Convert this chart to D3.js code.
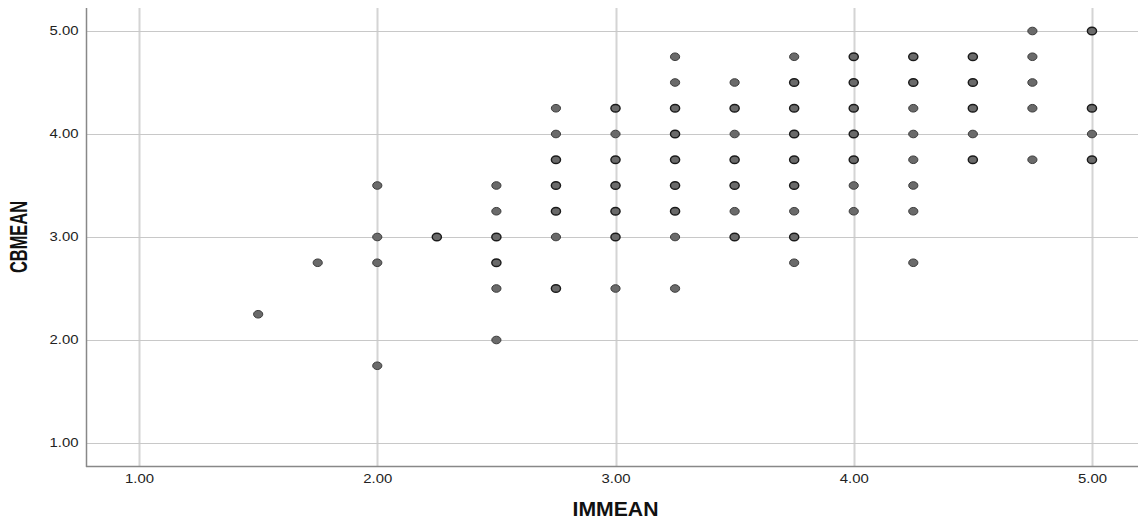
<!DOCTYPE html>
<html>
<head>
<meta charset="utf-8">
<script src="https://cdn.jsdelivr.net/npm/d3@7/dist/d3.min.js"></script>
<style>
  html, body { margin: 0; padding: 0; background: #fff; }
  svg { display: block; }
  text { font-family: "Liberation Sans", Arial, sans-serif; }
</style>
</head>
<body>
<svg id="chart" width="1138" height="520"></svg>
<script>
// IMMEAN column values and the CBMEAN values observed at each
const xColumns = [1.5, 1.75, 2.0, 2.25, 2.5, 2.75, 3.0, 3.25, 3.5, 3.75, 4.0, 4.25, 4.5, 4.75, 5.0];
const yByColumn = [
  [2.25],
  [2.75],
  [3.5, 3.0, 2.75, 1.75],
  [3.0],
  [3.5, 3.25, 3.0, 2.75, 2.5, 2.0],
  [4.25, 4.0, 3.75, 3.5, 3.25, 3.0, 2.5],
  [4.25, 4.0, 3.75, 3.5, 3.25, 3.0, 2.5],
  [4.75, 4.5, 4.25, 4.0, 3.75, 3.5, 3.25, 3.0, 2.5],
  [4.5, 4.25, 4.0, 3.75, 3.5, 3.25, 3.0],
  [4.75, 4.5, 4.25, 4.0, 3.75, 3.5, 3.25, 3.0, 2.75],
  [4.75, 4.5, 4.25, 4.0, 3.75, 3.5, 3.25],
  [4.75, 4.5, 4.25, 4.0, 3.75, 3.5, 3.25, 2.75],
  [4.75, 4.5, 4.25, 4.0, 3.75],
  [5.0, 4.75, 4.5, 4.25, 3.75],
  [5.0, 4.25, 4.0, 3.75]
];
// estimated overlap (1 = single case, 2 = several stacked cases), same layout as yByColumn
const overlapByColumn = [
  [1],
  [1],
  [1, 1, 1, 1],
  [2],
  [1, 1, 2, 2, 1, 1],
  [1, 1, 2, 2, 2, 1, 2],
  [2, 1, 2, 2, 2, 2, 1],
  [1, 1, 2, 2, 2, 2, 2, 1, 1],
  [1, 2, 1, 2, 2, 1, 2],
  [1, 2, 2, 2, 2, 2, 1, 2, 1],
  [2, 2, 2, 2, 2, 1, 1],
  [2, 2, 1, 1, 1, 1, 1, 1],
  [2, 2, 2, 1, 2],
  [1, 1, 1, 1, 1],
  [2, 2, 1, 2]
];
const xTicks = [1, 2, 3, 4, 5];
const yTicks = [1, 2, 3, 4, 5];
const xTitle = "IMMEAN";
const yTitle = "CBMEAN";

const points = [];
xColumns.forEach((xv, i) => {
  yByColumn[i].forEach((yv, j) => points.push({ x: xv, y: yv, n: overlapByColumn[i][j] }));
});

const svg = d3.select("#chart");
const plotLeft = 86, plotRight = 1138, plotTop = 8, plotBottom = 466;

const x = d3.scaleLinear()
  .domain([1 - 53 / 238, 5 + 46 / 238])
  .range([plotLeft, plotRight]);
const y = d3.scaleLinear()
  .domain([1 - 23 / 103, 5 + 23 / 103])
  .range([plotBottom, plotTop]);

// vertical gridlines
svg.append("g")
  .selectAll("line")
  .data(xTicks)
  .join("line")
  .attr("x1", d => Math.round(x(d)) + 0.5)
  .attr("x2", d => Math.round(x(d)) + 0.5)
  .attr("y1", plotTop)
  .attr("y2", plotBottom)
  .attr("stroke", "#d4d4d4")
  .attr("stroke-width", 2);

// horizontal gridlines
svg.append("g")
  .selectAll("line")
  .data(yTicks)
  .join("line")
  .attr("x1", plotLeft)
  .attr("x2", plotRight)
  .attr("y1", d => Math.round(y(d)) + 0.5)
  .attr("y2", d => Math.round(y(d)) + 0.5)
  .attr("stroke", "#c8c8c8")
  .attr("stroke-width", 1);

// axes
const xAxis = d3.axisBottom(x).tickValues(xTicks).tickFormat(d3.format(".2f")).tickSize(0).tickPadding(8);
const yAxis = d3.axisLeft(y).tickValues(yTicks).tickFormat(d3.format(".2f")).tickSize(0).tickPadding(8);

const gx = svg.append("g").attr("transform", `translate(0,${plotBottom + 0.5})`).call(xAxis);
const gy = svg.append("g").attr("transform", `translate(${plotLeft + 0.5},0)`).call(yAxis);
[gx, gy].forEach(g => {
  g.select(".domain").remove();
  g.selectAll("text")
    .attr("font-size", 12)
    .attr("fill", "#222")
    .style("font-family", "'Liberation Sans', Arial, sans-serif")
    .attr("textLength", 29)
    .attr("lengthAdjust", "spacingAndGlyphs");
});

// axis lines
svg.append("line")
  .attr("x1", plotLeft + 0.5).attr("x2", plotLeft + 0.5)
  .attr("y1", plotTop).attr("y2", plotBottom + 1)
  .attr("stroke", "#888").attr("stroke-width", 1.5);
svg.append("line")
  .attr("x1", plotLeft).attr("x2", plotRight)
  .attr("y1", plotBottom + 0.5).attr("y2", plotBottom + 0.5)
  .attr("stroke", "#888").attr("stroke-width", 1.5);

// points
svg.append("g")
  .selectAll("ellipse")
  .data(points)
  .join("ellipse")
  .attr("cx", d => x(d.x))
  .attr("cy", d => y(d.y))
  .attr("rx", 4.6)
  .attr("ry", 3.8)
  .attr("fill", "#6a6a6a")
  .attr("stroke", d => d.n > 1 ? "#1a1a1a" : "#3c3c3c")
  .attr("stroke-width", d => d.n > 1 ? 1.4 : 1);

// titles
svg.append("text")
  .attr("x", x(3))
  .attr("y", 516)
  .attr("text-anchor", "middle")
  .attr("font-size", 19.5)
  .attr("font-weight", "bold")
  .attr("fill", "#111")
  .attr("textLength", 86)
  .attr("lengthAdjust", "spacingAndGlyphs")
  .text(xTitle);

svg.append("text")
  .attr("transform", `translate(27,${y(3)}) rotate(-90)`)
  .attr("text-anchor", "middle")
  .attr("font-size", 24)
  .attr("font-weight", "bold")
  .attr("fill", "#111")
  .attr("textLength", 72)
  .attr("lengthAdjust", "spacingAndGlyphs")
  .text(yTitle);
</script>
</body>
</html>
